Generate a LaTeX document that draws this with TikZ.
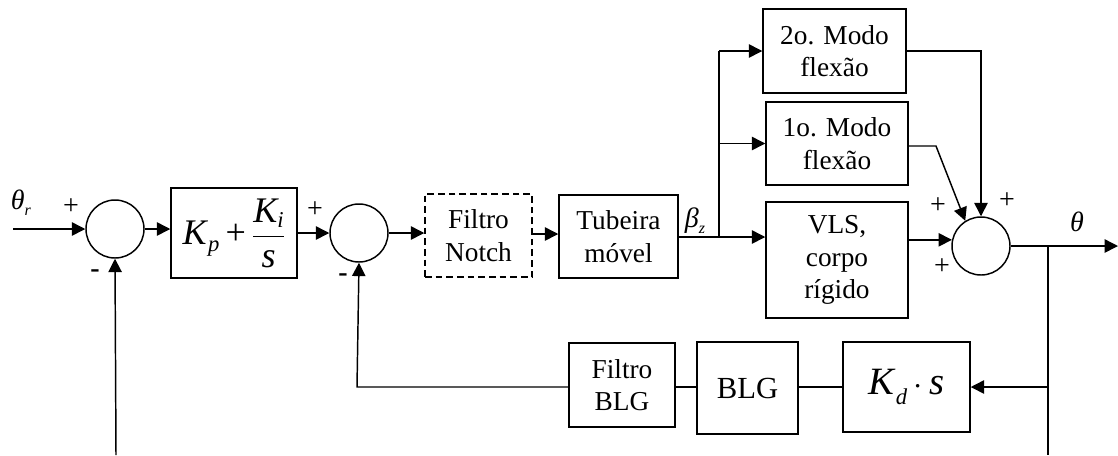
\documentclass[tikz,border=0pt]{standalone}
\usepackage{fontspec}
\setmainfont{Liberation Serif}
\usetikzlibrary{arrows.meta}
\begin{document}
\begin{tikzpicture}[x=0.75pt,y=-0.75pt,
  line width=1.1pt,
  txt/.style={font=\fontsize{20.5}{24.5}\selectfont, align=center, inner sep=0pt},
  blk/.style={draw, txt},
  sumc/.style={draw, circle, minimum size=43.5pt, inner sep=0pt},
  lbl/.style={font=\fontsize{21}{21}\selectfont, inner sep=0pt},
  arr/.style={-{Triangle[length=10pt,width=10pt]}}]
\useasboundingbox (0,0) rectangle (1118,455);

% summing junctions
\node[sumc] (s1) at (115,229) {};
\node[sumc] (s2) at (359,233) {};
\node[sumc] (s3) at (981,246) {};

% blocks
\node[blk, minimum width=94.5pt, minimum height=67.5pt] (pi) at (234,233)
  {\fontsize{27}{27}\selectfont\textit{K}\raisebox{-0.45ex}{\fontsize{17}{17}\selectfont\textit{p}}\,+\,$\displaystyle\frac{\textit{K}\raisebox{-0.35ex}{\fontsize{17}{17}\selectfont\textit{i}}}{\textit{s}}$};
\node[blk, dashed, dash pattern=on 5pt off 3pt, minimum width=80.25pt, minimum height=62.25pt] (notch) at (478.5,235.5) {Filtro\\Notch};
\node[blk, minimum width=89.25pt, minimum height=62.25pt] (tub) at (618.5,236.5) {Tubeira\\móvel};
\node[blk, minimum width=107.25pt, minimum height=63pt] (m2) at (834.5,51) {2o. Modo\\flexão};
\node[blk, minimum width=106.5pt, minimum height=62.25pt] (m1) at (837,143.5) {1o. Modo\\flexão};
\node[blk, minimum width=106.5pt, minimum height=87pt] (vls) at (837,260) {VLS,\\corpo\\rígido};
\node[blk, minimum width=79.5pt, minimum height=63pt] (fblg) at (622,385) {Filtro\\BLG};
\node[blk, minimum width=75.75pt, minimum height=69pt] (blg) at (747.5,388) {\fontsize{23}{23}\selectfont BLG};
\node[blk, minimum width=95.25pt, minimum height=67.5pt] (kd) at (906.5,387)
  {\fontsize{29}{29}\selectfont\textit{K}\raisebox{-0.6ex}{\fontsize{17}{17}\selectfont\textit{d}}\,$\cdot$\,\textit{s}};

% coordinates
\coordinate (in) at (13,229);
\coordinate (fb1) at (116,455);
\coordinate (br) at (719,237);
\coordinate (out) at (1118,246);
\coordinate (tap) at (1048,246);
\coordinate (tapb) at (1048,455);
\coordinate (fbc) at (357,387);

% main path
\draw[arr] (in) -- (s1.west);
\draw[arr] (s1.east) -- (s1.east -| pi.west);
\draw[arr] (pi.east |- s2.west) -- (s2.west);
\draw[arr] (s2.east) -- (s2.east -| notch.west);
\draw[arr] (notch.east |- 0,234) -- (tub.west |- 0,234);
\draw[arr] (tub.east |- br) -- (vls.west |- br);
\draw (br) -- (br |- m2.west);
\draw[arr] (br |- m2.west) -- (m2.west);
\draw[arr] (br |- m1.west) -- (m1.west);
\draw[arr] (vls.east |- s3.168) -- (s3.168);
\draw[arr] (m2.east) -- (s3.north |- m2.east) -- (s3.north);
\draw[arr] (m1.east |- 0,146) -- (936,146) -- (s3.122);
\draw[arr] (s3.east) -- (out);

% feedback
\draw (tap) -- (tapb);
\draw[arr] (tap |- kd.east) -- (kd.east);
\draw (kd.west) -- (blg.east |- kd.west);
\draw (blg.west |- kd.west) -- (fblg.east |- kd.west);
\draw[arr] (fblg.west |- fbc) -- (fbc) -- (s2.south);
\draw[arr] (fb1) -- (s1.south);

% labels
\node[lbl] (lth) at (21,203) {\textit{θ}\raisebox{-0.45ex}{\fontsize{12}{12}\selectfont\textit{r}}};
\node[lbl] (p1) at (71,207) {+};
\node[lbl] (n1) at (95,274) {\textbf{-}};
\node[lbl] (p2) at (315,210) {+};
\node[lbl] (n2) at (343,278) {\textbf{-}};
\node[lbl] (lb) at (695,221) {\textit{β}\raisebox{-0.45ex}{\fontsize{12}{12}\selectfont\textit{z}}};
\node[lbl] (p3) at (938,206) {+};
\node[lbl] (p4) at (1007,201) {+};
\node[lbl] (p5) at (942,267) {+};
\node[lbl] (lt) at (1077,222) {\textit{θ}};
\end{tikzpicture}
\end{document}
